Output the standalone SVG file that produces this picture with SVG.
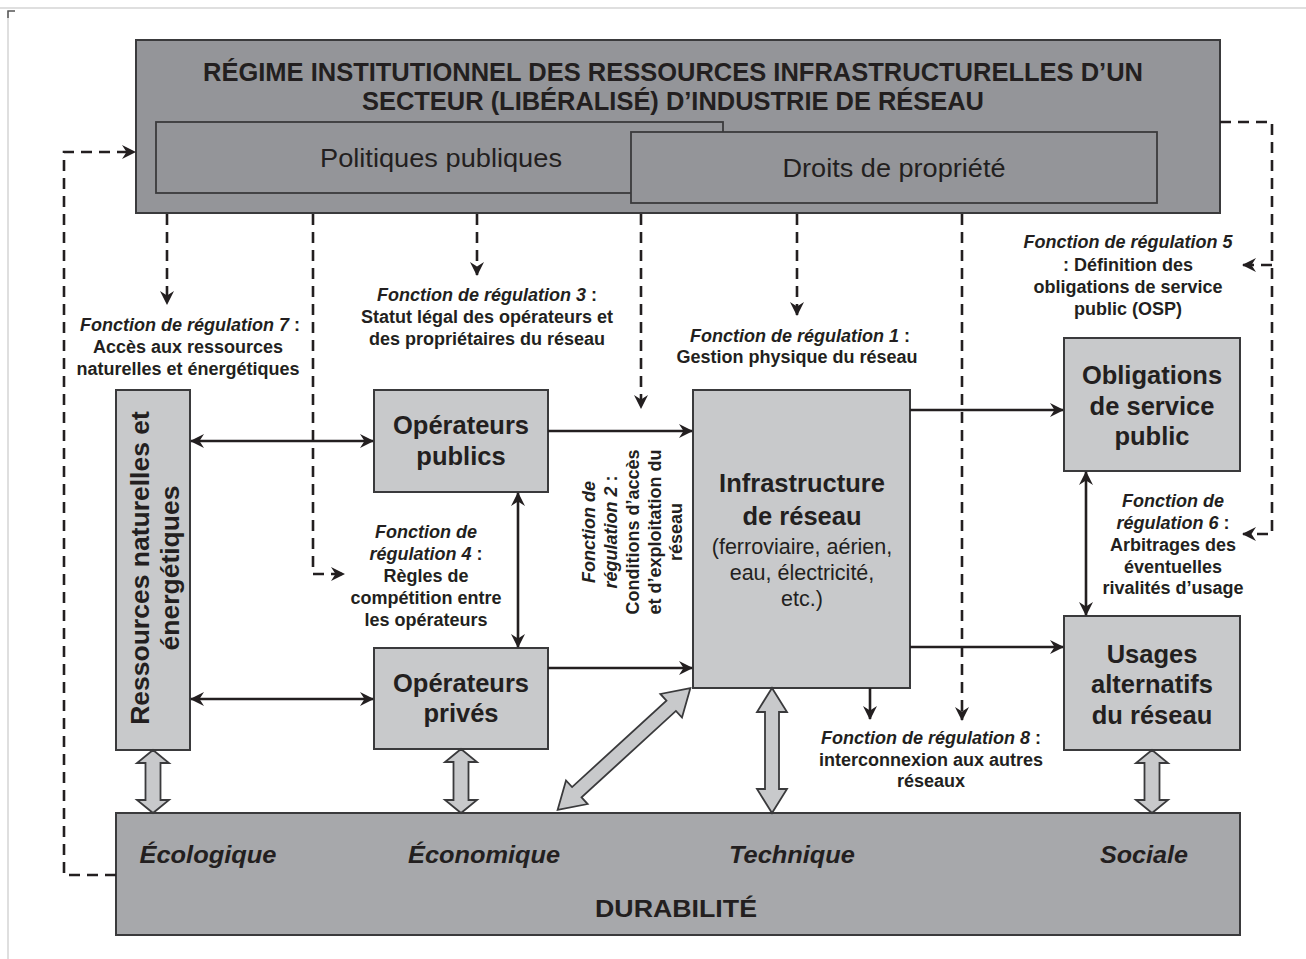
<svg xmlns="http://www.w3.org/2000/svg" width="1306" height="959" viewBox="0 0 1306 959">
  <defs>
    <style>
      text { font-family: "Liberation Sans", Arial, sans-serif; fill: #231f20; }
      .frame { fill: none; stroke: #d4d4d4; stroke-width: 1.5; }
      .dark { fill: #949599; stroke: #3a3a3c; stroke-width: 2; }
      .mid { fill: #a7a8ab; stroke: #3a3a3c; stroke-width: 2; }
      .light { fill: #c8c9cb; stroke: #3a3a3c; stroke-width: 2; }
      .sub { fill: #949599; stroke: #3a3a3c; stroke-width: 1.8; }
      .solid { fill: none; stroke: #231f20; stroke-width: 2.6; }
      .dash { fill: none; stroke: #231f20; stroke-width: 2.6; stroke-dasharray: 11 7; }
      .hollow { fill: #c8c9cb; stroke: #3a3a3c; stroke-width: 1.8; stroke-linejoin: miter; }
      .title { font-size: 25px; font-weight: bold; }
      .inner { font-size: 25px; }
      .node { font-size: 25.5px; font-weight: bold; text-anchor: middle; }
      .nodesub { font-size: 21.5px; text-anchor: middle; }
      .fn { font-size: 18px; font-weight: bold; text-anchor: middle; }
      .it { font-style: italic; }
      .dim { font-size: 23px; font-weight: bold; font-style: italic; }
    </style>
    <marker id="ah" viewBox="0 0 14 14" refX="13" refY="7" markerWidth="14" markerHeight="14" markerUnits="userSpaceOnUse" orient="auto-start-reverse">
      <path d="M0,0 L14,7 L0,14 L4.5,7 z" fill="#231f20"/>
    </marker>
  </defs>

  <!-- page frame -->
  <path class="frame" d="M0,8 H1306"/>
  <path class="frame" d="M8,959 V11"/>
  <path d="M8,18 V11 H15" fill="none" stroke="#555" stroke-width="1.5"/>

  <!-- institutional regime -->
  <g id="regime">
    <rect class="dark" x="136" y="40" width="1084" height="173"/>
    <text class="title" x="673" y="81" text-anchor="middle" textLength="940" lengthAdjust="spacingAndGlyphs">RÉGIME INSTITUTIONNEL DES RESSOURCES INFRASTRUCTURELLES D’UN</text>
    <text class="title" x="673" y="110" text-anchor="middle" textLength="622" lengthAdjust="spacingAndGlyphs">SECTEUR (LIBÉRALISÉ) D’INDUSTRIE DE RÉSEAU</text>
  </g>
  <g id="politiques">
    <rect class="sub" x="156" y="122" width="567" height="71"/>
    <text class="inner" x="441" y="167" text-anchor="middle" textLength="242" lengthAdjust="spacingAndGlyphs">Politiques publiques</text>
  </g>
  <g id="droits">
    <rect class="sub" x="631" y="132" width="526" height="71"/>
    <text class="inner" x="894" y="177" text-anchor="middle" textLength="223" lengthAdjust="spacingAndGlyphs">Droits de propriété</text>
  </g>

  <!-- actors and infrastructure -->
  <g id="ressources">
    <rect class="light" x="116" y="390" width="74" height="360"/>
    <text class="node" transform="translate(149,568) rotate(-90)" style="font-size:26.5px">Ressources naturelles et</text>
    <text class="node" transform="translate(179,568) rotate(-90)" style="font-size:26.5px">énergétiques</text>
  </g>
  <g id="op-publics">
    <rect class="light" x="374" y="390" width="174" height="102"/>
    <text class="node" x="461" y="434">Opérateurs</text>
    <text class="node" x="461" y="465">publics</text>
  </g>
  <g id="op-prives">
    <rect class="light" x="374" y="648" width="174" height="101"/>
    <text class="node" x="461" y="692">Opérateurs</text>
    <text class="node" x="461" y="722">privés</text>
  </g>
  <g id="infrastructure">
    <rect class="light" x="693" y="390" width="217" height="298"/>
    <text class="node" x="802" y="492">Infrastructure</text>
    <text class="node" x="802" y="525">de réseau</text>
    <text class="nodesub" x="802" y="554">(ferroviaire, aérien,</text>
    <text class="nodesub" x="802" y="580">eau, électricité,</text>
    <text class="nodesub" x="802" y="606">etc.)</text>
  </g>
  <g id="obligations">
    <rect class="light" x="1064" y="338" width="176" height="133"/>
    <text class="node" x="1152" y="384">Obligations</text>
    <text class="node" x="1152" y="415">de service</text>
    <text class="node" x="1152" y="445">public</text>
  </g>
  <g id="usages">
    <rect class="light" x="1064" y="616" width="176" height="134"/>
    <text class="node" x="1152" y="663">Usages</text>
    <text class="node" x="1152" y="693">alternatifs</text>
    <text class="node" x="1152" y="724">du réseau</text>
  </g>

  <!-- sustainability -->
  <g id="durabilite">
    <rect class="mid" x="116" y="813" width="1124" height="122"/>
    <text class="dim" x="208" y="863" text-anchor="middle" textLength="137" lengthAdjust="spacingAndGlyphs">Écologique</text>
    <text class="dim" x="484" y="863" text-anchor="middle" textLength="152" lengthAdjust="spacingAndGlyphs">Économique</text>
    <text class="dim" x="792" y="863" text-anchor="middle" textLength="126" lengthAdjust="spacingAndGlyphs">Technique</text>
    <text class="dim" x="1144" y="863" text-anchor="middle" textLength="88" lengthAdjust="spacingAndGlyphs">Sociale</text>
    <text x="676" y="917" text-anchor="middle" font-size="23" font-weight="bold" textLength="162" lengthAdjust="spacingAndGlyphs">DURABILITÉ</text>
  </g>

  <!-- regulation functions -->
  <g id="fn7">
    <text class="fn" x="190" y="331"><tspan class="it">Fonction de régulation 7</tspan> :</text>
    <text class="fn" x="188" y="353">Accès aux ressources</text>
    <text class="fn" x="188" y="375">naturelles et énergétiques</text>
  </g>
  <g id="fn3">
    <text class="fn" x="487" y="301"><tspan class="it">Fonction de régulation 3</tspan> :</text>
    <text class="fn" x="487" y="323">Statut légal des opérateurs et</text>
    <text class="fn" x="487" y="345">des propriétaires du réseau</text>
  </g>
  <g id="fn1">
    <text class="fn" x="800" y="342"><tspan class="it">Fonction de régulation 1</tspan> :</text>
    <text class="fn" x="797" y="363">Gestion physique du réseau</text>
  </g>
  <g id="fn5">
    <text class="fn it" x="1128" y="248">Fonction de régulation 5</text>
    <text class="fn" x="1128" y="271">: Définition des</text>
    <text class="fn" x="1128" y="293">obligations de service</text>
    <text class="fn" x="1128" y="315">public (OSP)</text>
  </g>
  <g id="fn6">
    <text class="fn it" x="1173" y="507">Fonction de</text>
    <text class="fn" x="1173" y="529"><tspan class="it">régulation 6</tspan> :</text>
    <text class="fn" x="1173" y="551">Arbitrages des</text>
    <text class="fn" x="1173" y="573">éventuelles</text>
    <text class="fn" x="1173" y="594">rivalités d’usage</text>
  </g>
  <g id="fn4">
    <text class="fn it" x="426" y="538">Fonction de</text>
    <text class="fn" x="426" y="560"><tspan class="it">régulation 4</tspan> :</text>
    <text class="fn" x="426" y="582">Règles de</text>
    <text class="fn" x="426" y="604">compétition entre</text>
    <text class="fn" x="426" y="626">les opérateurs</text>
  </g>
  <g id="fn2" transform="translate(0,532)">
    <text class="fn it" transform="translate(595,0) rotate(-90)">Fonction de</text>
    <text class="fn" transform="translate(617,0) rotate(-90)"><tspan class="it">régulation 2</tspan> :</text>
    <text class="fn" transform="translate(639,0) rotate(-90)">Conditions d’accès</text>
    <text class="fn" transform="translate(661,0) rotate(-90)">et d’exploitation du</text>
    <text class="fn" transform="translate(682,0) rotate(-90)">réseau</text>
  </g>
  <g id="fn8">
    <text class="fn" x="931" y="744"><tspan class="it">Fonction de régulation 8</tspan> :</text>
    <text class="fn" x="931" y="766">interconnexion aux autres</text>
    <text class="fn" x="931" y="787">réseaux</text>
  </g>

  <!-- connectors -->
  <g id="connectors">
    <!-- dashed regulation links from the regime -->
    <path class="dash" d="M167,214 V304" marker-end="url(#ah)"/>
    <path class="dash" d="M313,214 V574 H344" marker-end="url(#ah)"/>
    <path class="dash" d="M477,214 V275" marker-end="url(#ah)"/>
    <path class="dash" d="M641,214 V408" marker-end="url(#ah)"/>
    <path class="dash" d="M797,214 V315" marker-end="url(#ah)"/>
    <path class="dash" d="M962,214 V720" marker-end="url(#ah)"/>
    <path class="dash" d="M1220,122 H1272 V534 H1243" marker-end="url(#ah)"/>
    <path class="dash" d="M1272,265 H1243" marker-end="url(#ah)"/>
    <!-- feedback from sustainability -->
    <path class="dash" d="M116,875 H64 V152 H135" marker-end="url(#ah)"/>

    <!-- solid flows -->
    <path class="solid" d="M191,441 H373" marker-start="url(#ah)" marker-end="url(#ah)"/>
    <path class="solid" d="M191,699 H373" marker-start="url(#ah)" marker-end="url(#ah)"/>
    <path class="solid" d="M548,431 H692" marker-end="url(#ah)"/>
    <path class="solid" d="M548,668 H692" marker-end="url(#ah)"/>
    <path class="solid" d="M518,493 V647" marker-start="url(#ah)" marker-end="url(#ah)"/>
    <path class="solid" d="M910,410 H1063" marker-end="url(#ah)"/>
    <path class="solid" d="M910,647 H1063" marker-end="url(#ah)"/>
    <path class="solid" d="M1086,472 V615" marker-start="url(#ah)" marker-end="url(#ah)"/>
    <path class="solid" d="M870,688 V719" marker-end="url(#ah)"/>

    <!-- broad two-way arrows to sustainability -->
    <polygon class="hollow" points="153,750 169,763 160.5,763 160.5,800 169,800 153,813 137,800 145.5,800 145.5,763 137,763"/>
    <polygon class="hollow" points="461,749 477,762 468.5,762 468.5,800 477,800 461,813 445,800 453.5,800 453.5,762 445,762"/>
    <polygon class="hollow" points="1152,750 1168,763 1159.5,763 1159.5,800 1168,800 1152,813 1136,800 1144.5,800 1144.5,763 1136,763"/>
    <polygon class="hollow" points="772,688 787,712 779,712 779,789 787,789 772,813 757,789 765,789 765,712 757,712"/>
    <polygon class="hollow" transform="translate(624,749) rotate(-42.5)" points="90,0 64,-16 64,-7 -64,-7 -64,-16 -90,0 -64,16 -64,7 64,7 64,16"/>
  </g>
</svg>
